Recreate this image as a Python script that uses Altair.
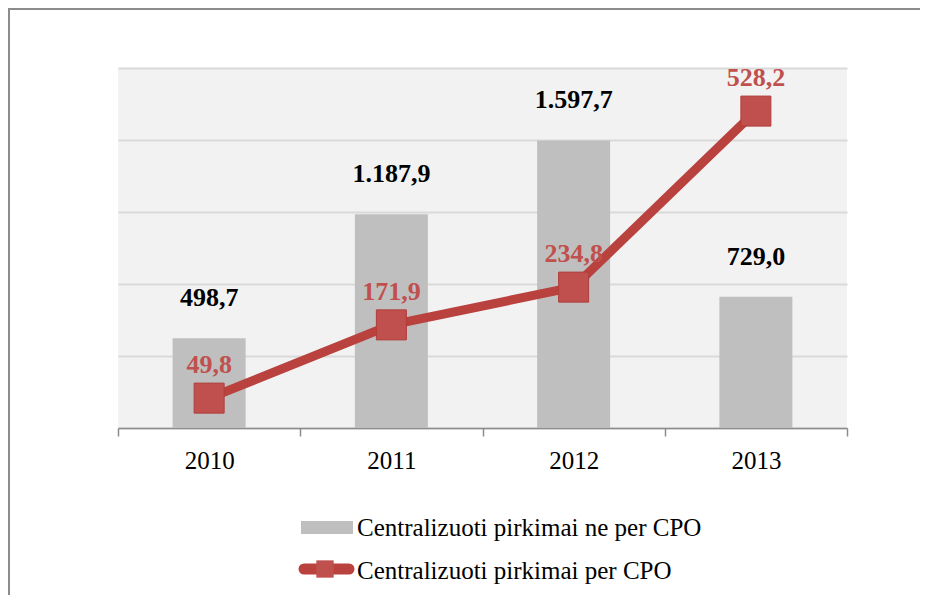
import altair as alt
import pandas as pd

years = ["2010", "2011", "2012", "2013"]
bar_values = [498.7, 1187.9, 1597.7, 729.0]
line_values = [49.8, 171.9, 234.8, 528.2]
series_names = ["Centralizuoti pirkimai ne per CPO", "Centralizuoti pirkimai per CPO"]
y_ticks = [0, 400, 800, 1200, 1600, 2000]


def fmt(v):
    s = f"{v:,.1f}"
    return s.replace(",", " ").replace(".", ",").replace(" ", ".")


df = pd.DataFrame({
    "year": years,
    "bar": bar_values,
    "line": line_values,
    "bar_lbl": [fmt(v) for v in bar_values],
    "line_lbl": [fmt(v) for v in line_values],
})

FONT = "Liberation Serif"
RED = "#c0504d"
RED_LINE = "#b9413e"
GRAY = "#bfbfbf"

x = alt.X("year:N", title=None,
          scale=alt.Scale(paddingInner=0, paddingOuter=0),
          axis=alt.Axis(labelAngle=0, tickBand="extent", labelFont=FONT, labelFontSize=25,
                        labelColor="black", domainColor="#8c8c8c", tickColor="#8c8c8c",
                        tickSize=8, labelPadding=12, grid=False, domainWidth=1.5, tickWidth=1.5))

ybar_axis = alt.Y("bar:Q", scale=alt.Scale(domain=[0, 2000], nice=False),
                  axis=alt.Axis(values=y_ticks, labels=False, ticks=False, domain=False, title=None,
                                grid=True, gridColor="#d9d9d9", gridWidth=2))
ybar = alt.Y("bar:Q", scale=alt.Scale(domain=[0, 2000], nice=False), axis=None)
yline = alt.Y("line:Q", scale=alt.Scale(domain=[0, 600], nice=False), axis=None)

base = alt.Chart(df)
bars = base.mark_bar(width=73, color=GRAY).encode(x=x, y=ybar_axis)
bar_text = base.mark_text(font=FONT, fontSize=26, fontWeight="bold", color="black", dy=-40).encode(
    x=x, y=ybar, text="bar_lbl:N")
line = base.mark_line(color=RED_LINE, strokeWidth=9).encode(x=x, y=yline)
points = base.mark_point(shape="square", filled=True, size=900, fill=RED, stroke="#b03c39",
                         strokeWidth=1, opacity=1).encode(x=x, y=yline)
line_text = base.mark_text(font=FONT, fontSize=26, fontWeight="bold", color=RED, dy=-33).encode(
    x=x, y=yline, text="line_lbl:N")

# legend (manual)
leg1 = pd.DataFrame({"t": [series_names[0]]})
leg2 = pd.DataFrame({"t": [series_names[1]]})
sw1 = alt.Chart(leg1).mark_rect(color=GRAY).encode(
    x=alt.value(183), x2=alt.value(235), y=alt.value(453), y2=alt.value(466))
t1 = alt.Chart(leg1).mark_text(font=FONT, fontSize=25, align="left", baseline="middle", color="black").encode(
    x=alt.value(239), y=alt.value(460), text="t:N")
sw2 = alt.Chart(leg2).mark_rule(color=RED_LINE, strokeWidth=11, strokeCap="round").encode(
    x=alt.value(186), x2=alt.value(231), y=alt.value(501))
mk2 = alt.Chart(leg2).mark_point(shape="square", filled=True, size=300, fill=RED, opacity=1).encode(
    x=alt.value(207), y=alt.value(501))
t2 = alt.Chart(leg2).mark_text(font=FONT, fontSize=25, align="left", baseline="middle", color="black").encode(
    x=alt.value(239), y=alt.value(503), text="t:N")

frame_df = pd.DataFrame({"a": [0]})
frame_left = alt.Chart(frame_df).mark_rule(color="#8c8c8c", strokeWidth=2).encode(
    x=alt.value(-109), y=alt.value(-59), y2=alt.value(527))
frame_top = alt.Chart(frame_df).mark_rule(color="#8c8c8c", strokeWidth=2).encode(
    x=alt.value(-110), x2=alt.value(802), y=alt.value(-59))

chart = alt.layer(bars, bar_text, line, points, line_text, sw1, t1, sw2, mk2, t2,
                  frame_left, frame_top).resolve_scale(
    y="independent"
).properties(
    width=729, height=360,
    padding={"left": 110, "top": 60, "right": 73, "bottom": 167},
    autosize="none",
    background="white",
).configure_view(fill="#f2f2f2", strokeWidth=0)

chart.save("out.html", embed_options={"renderer": "svg", "actions": False})
